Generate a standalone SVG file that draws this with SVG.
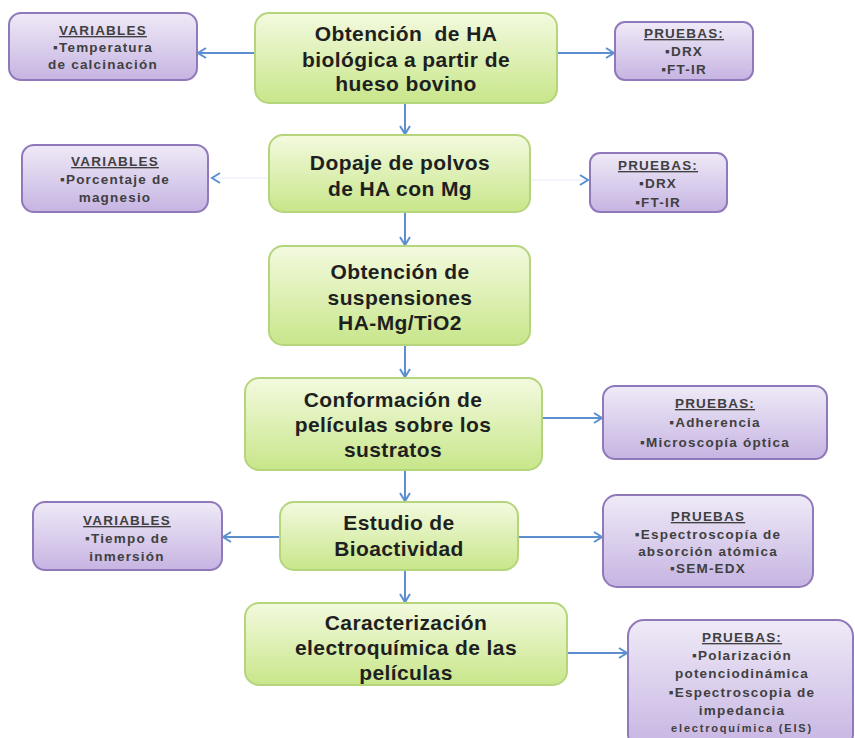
<svg xmlns="http://www.w3.org/2000/svg" width="855" height="738" viewBox="0 0 855 738">
<defs>
<linearGradient id="gg" x1="0" y1="0" x2="0" y2="1">
<stop offset="0" stop-color="#f3fadf"/>
<stop offset="1" stop-color="#c8e68a"/>
</linearGradient>
<linearGradient id="pg" x1="0" y1="0" x2="0" y2="1">
<stop offset="0" stop-color="#efeaf7"/>
<stop offset="1" stop-color="#c6b4e2"/>
</linearGradient>
<marker id="ah" markerUnits="userSpaceOnUse" markerWidth="14" markerHeight="14" refX="9" refY="6" orient="auto">
<path d="M1,1 L9,6 L1,11" fill="none" stroke="#5b8fd0" stroke-width="2"/>
</marker>
<style>
.g{fill:url(#gg);stroke:#b5d57c;stroke-width:2}
.p{fill:url(#pg);stroke:#9079bb;stroke-width:2}
.gt{font-family:"Liberation Sans",Arial,sans-serif;font-size:21px;font-weight:bold;fill:#1f1f1f;text-anchor:middle;letter-spacing:0.4px}
.pt{font-family:"Liberation Sans",Arial,sans-serif;font-size:13.5px;font-weight:bold;fill:#404040;text-anchor:middle;letter-spacing:1.2px}
.u{text-decoration:underline}
.c{fill:none;stroke:#5b8fd0;stroke-width:2}
</style>
</defs>
<g id="connectors">
<line class="c" x1="405" y1="103" x2="405" y2="134" marker-end="url(#ah)"/>
<line class="c" x1="405" y1="212" x2="405" y2="245" marker-end="url(#ah)"/>
<line class="c" x1="405" y1="345" x2="405" y2="377" marker-end="url(#ah)"/>
<line class="c" x1="405" y1="470" x2="405" y2="501" marker-end="url(#ah)"/>
<line class="c" x1="405" y1="570" x2="405" y2="602" marker-end="url(#ah)"/>
<line class="c" x1="255" y1="53" x2="198" y2="53" marker-end="url(#ah)"/>
<line class="c" x1="557" y1="53" x2="614" y2="53" marker-end="url(#ah)"/>
<line class="c" x1="269" y1="178" x2="212" y2="178" stroke-opacity="0.08" marker-end="url(#ah)"/>
<line class="c" x1="530" y1="180" x2="588" y2="180" stroke-opacity="0.08" marker-end="url(#ah)"/>
<line class="c" x1="542" y1="418" x2="602" y2="418" marker-end="url(#ah)"/>
<line class="c" x1="280" y1="537" x2="223" y2="537" marker-end="url(#ah)"/>
<line class="c" x1="518" y1="537" x2="602" y2="537" marker-end="url(#ah)"/>
<line class="c" x1="567" y1="653" x2="627" y2="653" marker-end="url(#ah)"/>
</g>
<g id="n1">
<rect class="g" x="255" y="13" width="302" height="90" rx="14"/>
<text class="gt" x="406" y="41" style="white-space:pre">Obtención  de HA</text>
<text class="gt" x="406" y="67">biológica a partir de</text>
<text class="gt" x="406" y="91">hueso bovino</text>
</g>
<g id="n2">
<rect class="g" x="269" y="135" width="261" height="77" rx="14"/>
<text class="gt" x="400" y="170">Dopaje de polvos</text>
<text class="gt" x="400" y="196">de HA con Mg</text>
</g>
<g id="n3">
<rect class="g" x="269" y="246" width="261" height="99" rx="14"/>
<text class="gt" x="400" y="279">Obtención de</text>
<text class="gt" x="400" y="305">suspensiones</text>
<text class="gt" x="400" y="330">HA-Mg/TiO2</text>
</g>
<g id="n4">
<rect class="g" x="245" y="378" width="297" height="92" rx="14"/>
<text class="gt" x="393" y="407">Conformación de</text>
<text class="gt" x="393" y="432">películas sobre los</text>
<text class="gt" x="393" y="457">sustratos</text>
</g>
<g id="n5">
<rect class="g" x="280" y="502" width="238" height="68" rx="14"/>
<text class="gt" x="399" y="530">Estudio de</text>
<text class="gt" x="399" y="556">Bioactividad</text>
</g>
<g id="n6">
<rect class="g" x="245" y="603" width="322" height="82" rx="14"/>
<text class="gt" x="406" y="630">Caracterización</text>
<text class="gt" x="406" y="655">electroquímica de las</text>
<text class="gt" x="406" y="680">películas</text>
</g>
<g id="v1">
<rect class="p" x="9" y="13" width="188" height="67" rx="12"/>
<text class="pt u" x="103" y="35">VARIABLES</text>
<text class="pt" x="103" y="52">▪Temperatura</text>
<text class="pt" x="103" y="69">de calcinación</text>
</g>
<g id="t1">
<rect class="p" x="615" y="22" width="138" height="58" rx="10"/>
<text class="pt u" x="684" y="38">PRUEBAS:</text>
<text class="pt" x="684" y="56">▪DRX</text>
<text class="pt" x="684" y="74">▪FT-IR</text>
</g>
<g id="v2">
<rect class="p" x="22" y="145" width="186" height="67" rx="12"/>
<text class="pt u" x="115" y="166">VARIABLES</text>
<text class="pt" x="115" y="184">▪Porcentaje de</text>
<text class="pt" x="115" y="202">magnesio</text>
</g>
<g id="t2">
<rect class="p" x="590" y="153" width="137" height="59" rx="10"/>
<text class="pt u" x="658" y="170">PRUEBAS:</text>
<text class="pt" x="658" y="188">▪DRX</text>
<text class="pt" x="658" y="207">▪FT-IR</text>
</g>
<g id="t3">
<rect class="p" x="603" y="386" width="224" height="73" rx="12"/>
<text class="pt u" x="715" y="408">PRUEBAS:</text>
<text class="pt" x="715" y="427">▪Adherencia</text>
<text class="pt" x="715" y="447">▪Microscopía óptica</text>
</g>
<g id="v3">
<rect class="p" x="33" y="502" width="189" height="68" rx="12"/>
<text class="pt u" x="127" y="525">VARIABLES</text>
<text class="pt" x="127" y="543">▪Tiempo de</text>
<text class="pt" x="127" y="561">inmersión</text>
</g>
<g id="t4">
<rect class="p" x="603" y="495" width="210" height="92" rx="14"/>
<text class="pt u" x="708" y="521">PRUEBAS</text>
<text class="pt" x="708" y="539">▪Espectroscopía de</text>
<text class="pt" x="708" y="556">absorción atómica</text>
<text class="pt" x="708" y="573">▪SEM-EDX</text>
</g>
<g id="t5">
<rect class="p" x="628" y="620" width="225" height="130" rx="16"/>
<text class="pt u" x="742" y="642">PRUEBAS:</text>
<text class="pt" x="742" y="660">▪Polarización</text>
<text class="pt" x="742" y="678">potenciodinámica</text>
<text class="pt" x="742" y="697">▪Espectroscopia de</text>
<text class="pt" x="742" y="715">impedancia</text>
<text class="pt" x="742" y="732" style="font-size:11px;letter-spacing:1.8px">electroquímica (EIS)</text>
</g>
</svg>
